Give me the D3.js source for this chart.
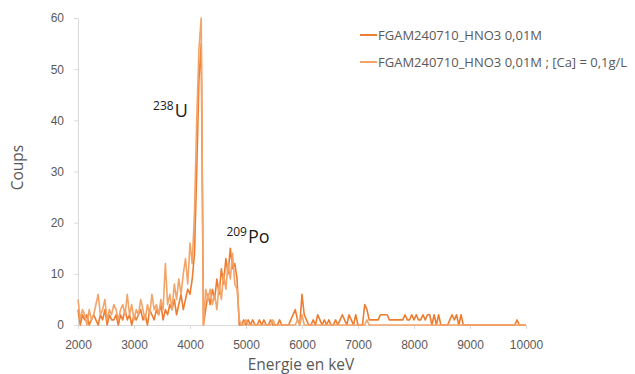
<!DOCTYPE html>
<html>
<head>
<meta charset="utf-8">
<script src="https://cdn.jsdelivr.net/npm/d3@7/dist/d3.min.js"></script>
<style>
  body { margin: 0; background: #fff; }
  svg { font-family: "Open Sans", sans-serif; }
</style>
</head>
<body>
<svg id="chart" width="635" height="374"></svg>
<script>
// ===== Spectrum data: counts per 40 keV channel, 2000 -> 10000 keV =====
const channelStart = 2000;
const channelStep = 40;

// FGAM240710_HNO3 0,01M
const countsHNO3 = [
  3, 0, 2, 1, 2, 0, 1, 2, 1, 0,
  2, 1, 3, 0, 2, 1, 1, 2, 0, 2,
  1, 3, 1, 2, 0, 2, 1, 2, 3, 1,
  2, 0, 3, 2, 1, 3, 2, 4, 1, 3,
  2, 4, 3, 5, 2, 4, 6, 3, 5, 7,
  6, 9, 14, 30, 48, 55, 0, 3, 6, 4,
  7, 5, 9, 6, 11, 8, 13, 10, 15, 11,
  12, 9, 0, 0, 1, 0, 1, 0, 1, 0,
  0, 1, 0, 1, 0, 0, 1, 0, 0, 0,
  1, 0, 0, 0, 0, 1, 2, 3, 1, 0,
  6, 2, 1, 0, 0, 1, 0, 2, 1, 0,
  1, 0, 1, 0, 0, 1, 0, 1, 2, 1,
  0, 2, 1, 0, 2, 0, 0, 0, 4, 3,
  1, 1, 1, 1, 1, 2, 2, 2, 2, 1,
  1, 1, 1, 1, 1, 1, 2, 1, 1, 2,
  1, 2, 1, 1, 2, 1, 2, 2, 0, 2,
  0, 2, 0, 0, 0, 0, 1, 2, 1, 2,
  0, 2, 0, 0, 0, 0, 0, 0, 0, 0,
  0, 0, 0, 0, 0, 0, 0, 0, 0, 0,
  0, 0, 0, 0, 0, 0, 1, 0, 0, 0,
  0
];

// FGAM240710_HNO3 0,01M ; [Ca] = 0,1g/L
const countsHNO3Ca = [
  5, 1, 3, 2, 0, 3, 1, 2, 4, 6,
  2, 3, 5, 1, 3, 2, 4, 3, 1, 3,
  4, 2, 6, 2, 4, 1, 3, 2, 5, 3,
  1, 4, 2, 6, 3, 4, 2, 5, 3, 12,
  4, 6, 3, 8, 5, 9, 6, 10, 13, 8,
  16, 12, 22, 40, 54, 60, 0, 7, 5, 7,
  4, 6, 3, 8, 5, 10, 7, 12, 9, 14,
  8, 7, 1, 0, 0, 1, 0, 0, 0, 0,
  0, 0, 0, 0, 0, 0, 0, 1, 0, 0,
  0, 0, 0, 0, 0, 0, 0, 0, 1, 0,
  2, 0, 0, 0, 0, 0, 0, 0, 0, 0,
  0, 0, 0, 0, 0, 0, 0, 0, 0, 0,
  0, 0, 0, 0, 0, 0, 0, 0, 0, 1,
  0, 0, 0, 0, 0, 0, 0, 0, 0, 0,
  0, 0, 0, 0, 0, 0, 0, 0, 0, 0,
  0, 0, 0, 0, 0, 0, 0, 0, 0, 0,
  0, 0, 0, 0, 0, 0, 0, 0, 0, 0,
  0, 0, 0, 0, 0, 0, 0, 0, 0, 0,
  0, 0, 0, 0, 0, 0, 0, 0, 0, 0,
  0, 0, 0, 0, 0, 0, 0, 0, 0, 0,
  0
];

const xTicks = [2000, 3000, 4000, 5000, 6000, 7000, 8000, 9000, 10000];
const yTicks = [0, 10, 20, 30, 40, 50, 60];

const seriesNames = ["FGAM240710_HNO3 0,01M", "FGAM240710_HNO3 0,01M ; [Ca] = 0,1g/L"];
const seriesColors = ["#ED7D31", "#F3A469"];

// peak labels: [mass number, element, energy, counts]
const peakLabels = [
  ["238", "U", 3340, 40.7],
  ["209", "Po", 4650, 16]
];

// ===== Layout =====
const svg = d3.select("#chart");
const margin = { top: 18, right: 109, bottom: 49, left: 78 };
const width = +svg.attr("width") - margin.left - margin.right;
const height = +svg.attr("height") - margin.top - margin.bottom;
const g = svg.append("g").attr("transform", `translate(${margin.left},${margin.top})`);

const x = d3.scaleLinear().domain([2000, 10000]).range([0, width]);
const y = d3.scaleLinear().domain([0, 60]).range([height, 0]);

const energyOf = i => channelStart + i * channelStep;

// ===== Axes =====
const xAxisG = g.append("g")
  .attr("transform", `translate(0,${height})`)
  .call(d3.axisBottom(x).tickValues(xTicks).tickSize(4).tickPadding(11).tickFormat(d3.format("d")));
const yAxisG = g.append("g")
  .call(d3.axisLeft(y).tickValues(yTicks).tickSize(4).tickPadding(10));

[xAxisG, yAxisG].forEach(ax => {
  ax.selectAll("path, line").attr("stroke", "#d9d9d9");
  ax.selectAll("text").attr("fill", "#595959").style("font-size", "12px");
});

g.append("text")
  .attr("x", width / 2 - 1)
  .attr("y", height + 45)
  .attr("text-anchor", "middle")
  .attr("fill", "#595959")
  .style("font-size", "15.5px")
  .text("Energie en keV");

g.append("text")
  .attr("transform", "rotate(-90)")
  .attr("x", -height / 2 + 4)
  .attr("y", -55)
  .attr("text-anchor", "middle")
  .attr("fill", "#595959")
  .style("font-size", "15.5px")
  .text("Coups");

// ===== Series =====
const line = d3.line()
  .x((d, i) => x(energyOf(i)))
  .y(d => y(d));

[countsHNO3, countsHNO3Ca].forEach((counts, k) => {
  g.append("path")
    .datum(counts)
    .attr("fill", "none")
    .attr("stroke", seriesColors[k])
    .attr("stroke-width", 1.6)
    .attr("stroke-linejoin", "round")
    .attr("d", line);
});

// ===== Peak labels =====
peakLabels.forEach(([mass, elem, e, c]) => {
  const t = g.append("text")
    .attr("x", x(e))
    .attr("y", y(c))
    .attr("fill", "#1a1a1a");
  t.append("tspan").style("font-size", "12px").attr("dy", -7).text(mass);
  t.append("tspan").style("font-size", "18px").attr("dy", 7).attr("dx", 1).text(elem);
});

// ===== Legend =====
const legend = svg.append("g").attr("transform", "translate(360,35)");
seriesNames.forEach((name, k) => {
  const row = legend.append("g").attr("transform", `translate(0,${k * 27})`);
  row.append("line")
    .attr("x1", 0).attr("x2", 17)
    .attr("stroke", seriesColors[k])
    .attr("stroke-width", 2);
  row.append("text")
    .attr("x", 18)
    .attr("dy", "0.35em")
    .attr("fill", "#595959")
    .style("font-size", "13px")
    .text(name);
});
</script>
</body>
</html>
